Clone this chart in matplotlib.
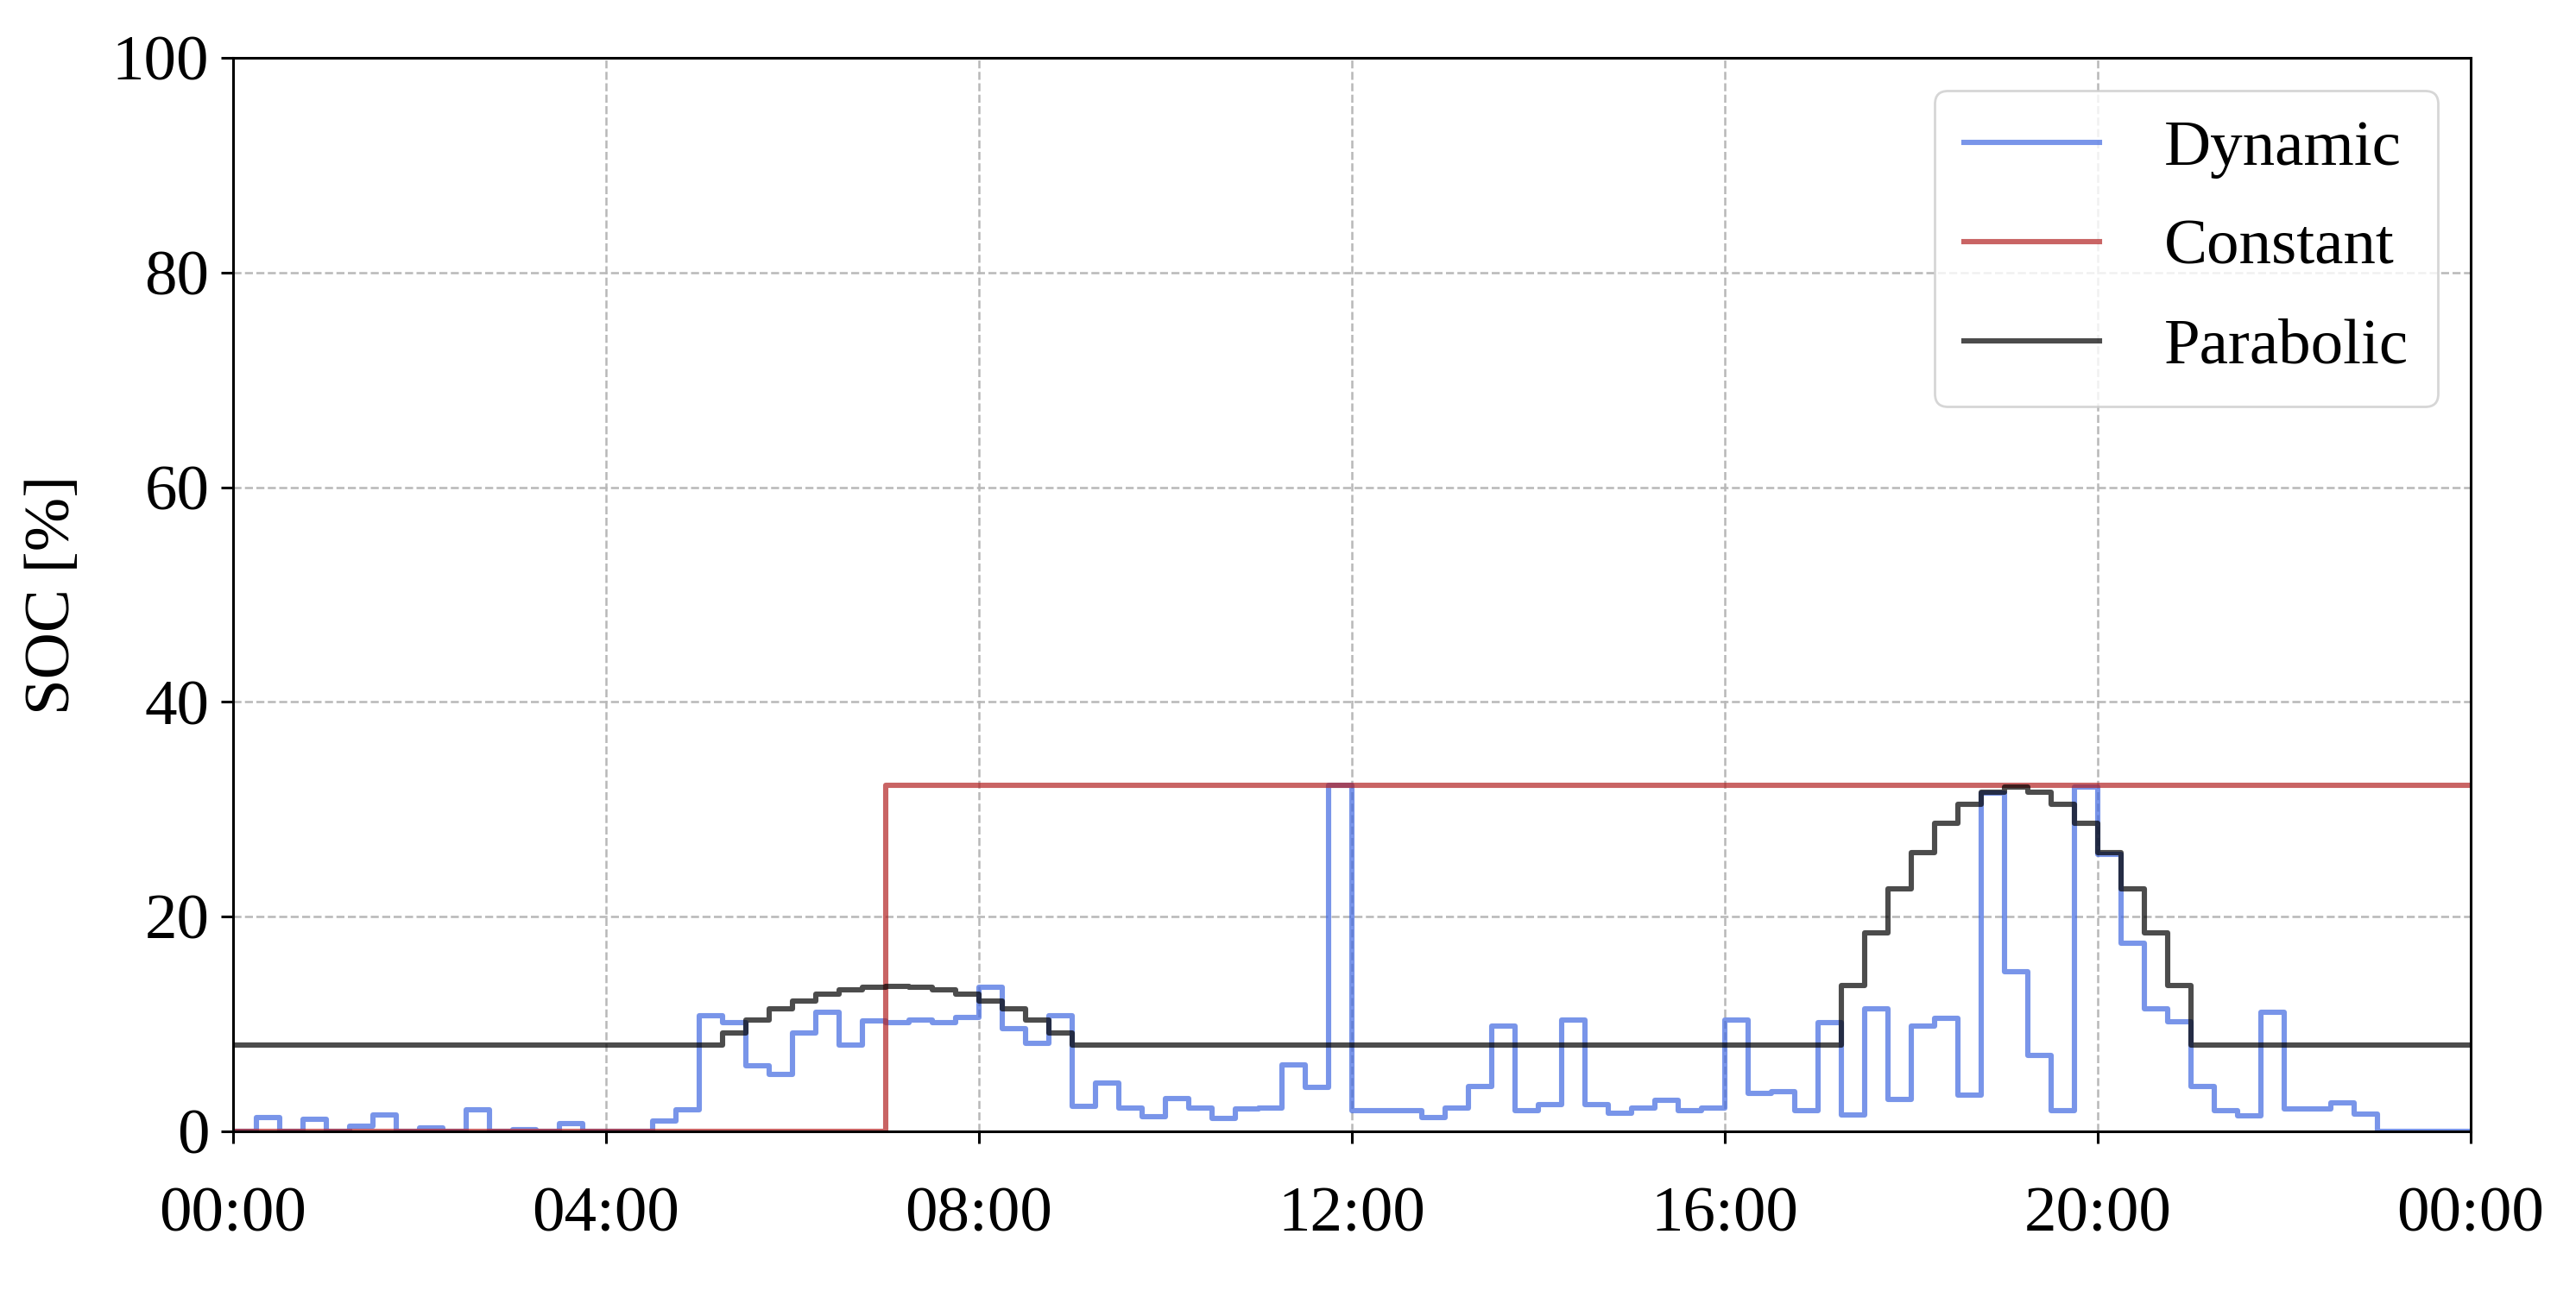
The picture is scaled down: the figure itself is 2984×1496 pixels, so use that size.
import numpy as np
import matplotlib.pyplot as plt

# quarter-hour steps over one day
hours = np.arange(97) / 4

dynamic = [0.0, 1.3, 0.0, 1.1, 0.0, 0.45, 1.5, 0.0,
           0.3, 0.0, 2.0, 0.0, 0.15, 0.0, 0.7, 0.0,
           0.0, 0.0, 1.0, 2.0, 10.8, 10.1, 6.1, 5.3,
           9.2, 11.1, 8.0, 10.3, 10.1, 10.4, 10.1, 10.6,
           13.4, 9.6, 8.2, 10.8, 2.3, 4.5, 2.2, 1.4,
           3.05, 2.2, 1.2, 2.06, 2.2, 6.2, 4.1, 32.2,
           1.9, 1.9, 1.9, 1.3, 2.2, 4.2, 9.8, 1.9,
           2.5, 10.4, 2.5, 1.7, 2.2, 2.9, 1.9, 2.2,
           10.4, 3.5, 3.7, 1.9, 10.1, 1.5, 11.4, 3.0,
           9.8, 10.5, 3.4, 31.5, 14.9, 7.1, 1.9, 32.1,
           25.8, 17.5, 11.4, 10.2, 4.2, 1.9, 1.45, 11.1,
           2.06, 2.06, 2.65, 1.6, 0.0, 0.0, 0.0, 0.0]

parabolic = [8.0, 8.0, 8.0, 8.0, 8.0, 8.0, 8.0, 8.0,
             8.0, 8.0, 8.0, 8.0, 8.0, 8.0, 8.0, 8.0,
             8.0, 8.0, 8.0, 8.0, 8.0, 9.2, 10.4, 11.4,
             12.1, 12.8, 13.2, 13.4, 13.5, 13.4, 13.2, 12.8,
             12.1, 11.4, 10.4, 9.2, 8.0, 8.0, 8.0, 8.0,
             8.0, 8.0, 8.0, 8.0, 8.0, 8.0, 8.0, 8.0,
             8.0, 8.0, 8.0, 8.0, 8.0, 8.0, 8.0, 8.0,
             8.0, 8.0, 8.0, 8.0, 8.0, 8.0, 8.0, 8.0,
             8.0, 8.0, 8.0, 8.0, 8.0, 13.6, 18.5, 22.6,
             26.0, 28.7, 30.5, 31.6, 32.1, 31.6, 30.5, 28.7,
             26.0, 22.6, 18.5, 13.6, 8.0, 8.0, 8.0, 8.0,
             8.0, 8.0, 8.0, 8.0, 8.0, 8.0, 8.0, 8.0]

# constant strategy: breakpoints (hour, value)
const_hours = [0, 7, 24]
const_vals = [0.0, 32.2, 32.2]

tick_hours = [0, 4, 8, 12, 16, 20, 24]
tick_labels = ['00:00', '04:00', '08:00', '12:00', '16:00', '20:00', '00:00']

plt.rcParams['font.family'] = ['Liberation Serif', 'DejaVu Serif']
plt.rcParams['font.size'] = 27

fig = plt.figure(figsize=(14.92, 7.48), dpi=200)
ax = fig.add_axes([0.0905, 0.1237, 0.8685, 0.8315])

ax.step(hours, dynamic + [dynamic[-1]], where='post', color='royalblue',
        alpha=0.7, lw=2.2, label='Dynamic')
ax.step(const_hours, const_vals, where='post', color='firebrick',
        alpha=0.7, lw=2.2, label='Constant')
ax.step(hours, parabolic + [parabolic[-1]], where='post', color='black',
        alpha=0.7, lw=2.2, label='Parabolic')

ax.set_xlim(0, 24)
ax.set_ylim(0, 100)
ax.set_xticks(tick_hours)
ax.set_xticklabels(tick_labels)
ax.set_yticks([0, 20, 40, 60, 80, 100])
ax.tick_params(length=5, width=1.1)
ax.xaxis.set_tick_params(pad=18)
ax.yaxis.set_tick_params(pad=5)
for s in ax.spines.values():
    s.set_linewidth(1.1)

ax.set_ylabel('SOC [%]', labelpad=12)
ax.grid(True, linestyle='--', color='0.72', linewidth=0.9)
ax.legend(loc='upper right', fancybox=True, handlelength=2.1,
          handletextpad=1.0, labelspacing=0.62, borderpad=0.45)

fig.savefig('out.png', dpi=200)
